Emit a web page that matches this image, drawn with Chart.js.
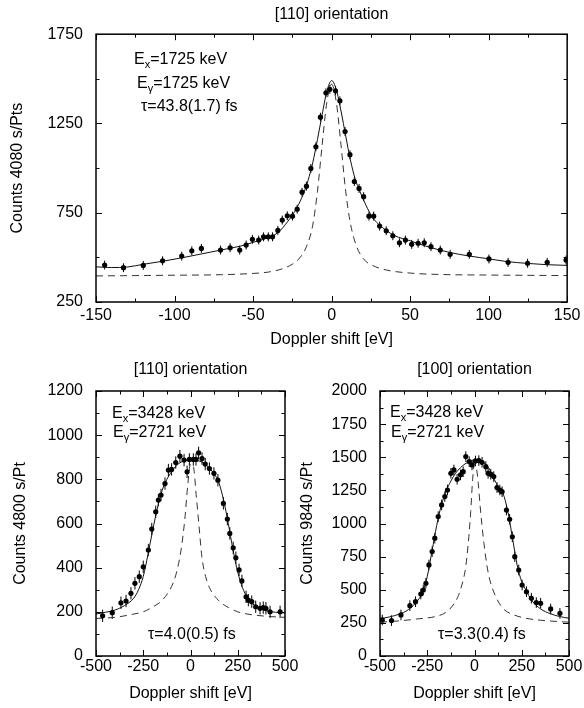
<!DOCTYPE html>
<html>
<head>
<meta charset="utf-8">
<script src="https://cdn.jsdelivr.net/npm/chart.js@4/dist/chart.umd.min.js"></script>
<style>
  body { margin: 0; background: #fff; }
  #wrap { position: relative; width: 584px; height: 708px; }
  canvas { position: absolute; }
</style>
</head>
<body>
<div id="wrap">
  <canvas id="top" width="584" height="352" style="left:0;top:0"></canvas>
  <canvas id="left" width="300" height="356" style="left:0;top:352px"></canvas>
  <canvas id="right" width="294" height="356" style="left:290px;top:352px"></canvas>
</div>
<script>
// ---- top panel: [110], Ex = Eg = 1725 keV ----
const topShift = [-144.5, -132.5, -119.9, -107.6, -95.4, -89, -82.9, -70.7, -64.6, -58.5, -54.4, -50.4, -46.4, -43.3, -40.3, -37.6, -34.2, -31.4, -28.2, -24.9, -21.9, -18.8, -16, -13.2, -10, -7.1, -3.6, -1.1, 2.5, 5.3, 8.6, 11.7, 14.5, 17.5, 20.4, 23.8, 26.8, 30.6, 34.8, 39, 43.2, 47, 51, 55.1, 59, 63.3, 69.2, 75.5, 87.7, 100.2, 112.4, 124.8, 137.3, 149.3];
const topCounts = [457, 442, 455, 481, 507, 537, 550, 541, 554, 541, 569, 601, 597, 615, 615, 615, 651, 709, 733, 731, 770, 865, 899, 998, 1119, 1285, 1422, 1441, 1433, 1377, 1205, 1075, 925, 886, 840, 731, 731, 675, 649, 621, 582, 597, 573, 579, 582, 560, 541, 517, 517, 491, 472, 467, 472, 485];
const topFitShift = [-150, -140, -130, -120, -107, -95, -83, -70, -58, -50, -40, -34, -28, -22, -18, -15, -12, -9, -6, -3, 0, 3, 6, 9, 12, 15, 18, 22, 26, 30, 35, 40, 50, 60, 75, 88, 100, 112, 125, 137, 150];
const topFit = [447, 443, 446, 461, 479, 498, 519, 542, 563, 584, 612, 640, 700, 780, 855, 930, 1030, 1160, 1300, 1430, 1490, 1440, 1320, 1180, 1045, 940, 870, 790, 725, 685, 650, 622, 593, 563, 528, 507, 492, 476, 466, 459, 455];
const topBgShift = [-150, -100, -70, -50, -40, -30, -25, -20, -16, -12, -9, -6, -3, 0, 3, 6, 9, 12, 16, 21, 26, 35, 50, 70, 100, 150];
const topBg = [396, 400, 403, 410, 418, 440, 462, 500, 560, 680, 870, 1130, 1370, 1470, 1370, 1130, 870, 690, 560, 485, 455, 429, 412, 404, 401, 398];
const topErr = 25;

// ---- bottom left: [110], Ex = 3428, Eg = 2721 keV ----
const blShift = [-465, -414, -368, -341, -315, -294, -271, -250, -223, -205, -184, -170, -156, -135, -117, -100, -78, -56, -34, -18, -6, 15, 29, 43, 61, 78, 100, 124, 145, 174, 195, 208, 226, 240, 257, 272, 294, 306, 324, 345, 368, 385, 399, 421, 474];
const blCounts = [182, 196, 241, 249, 284, 329, 359, 404, 480, 575, 653, 706, 729, 781, 842, 845, 876, 905, 887, 834, 890, 890, 890, 920, 894, 869, 849, 827, 796, 691, 620, 555, 490, 445, 390, 340, 268, 253, 246, 223, 216, 219, 216, 200, 200];
const blFitShift = [-500, -450, -400, -350, -300, -275, -250, -225, -200, -175, -150, -125, -100, -75, -50, 0, 50, 75, 100, 125, 150, 175, 200, 225, 250, 275, 300, 350, 400, 450, 500];
const blFit = [190, 198, 208, 228, 262, 300, 360, 460, 570, 670, 750, 800, 835, 862, 878, 888, 882, 872, 850, 825, 785, 706, 600, 480, 380, 310, 265, 223, 205, 198, 195];
const blBgShift = [-500, -400, -300, -250, -200, -150, -100, -75, -50, -30, -15, 0, 15, 30, 45, 60, 80, 100, 150, 200, 250, 300, 400, 500];
const blBg = [170, 175, 190, 200, 222, 252, 315, 375, 480, 620, 770, 870, 860, 730, 590, 450, 360, 310, 250, 220, 200, 190, 180, 175];
const blErr = 28;

// ---- bottom right: [100], Ex = 3428, Eg = 2721 keV ----
const brShift = [-488, -439, -389, -342, -312, -284, -271, -257, -241, -224, -210, -192, -174, -157, -143, -125, -109, -92, -74, -60, -46, -28, -13, 5, 23, 40, 60, 72, 86, 102, 119, 134, 146, 169, 186, 200, 213, 234, 252, 275, 301, 327, 350, 403, 452];
const brCounts = [272, 267, 310, 380, 410, 468, 498, 549, 687, 788, 889, 1052, 1140, 1203, 1253, 1379, 1404, 1334, 1367, 1391, 1505, 1467, 1442, 1472, 1475, 1462, 1429, 1379, 1372, 1354, 1271, 1253, 1240, 1102, 1032, 900, 750, 649, 536, 485, 436, 403, 398, 355, 322];
const brFitShift = [-500, -450, -400, -350, -300, -275, -250, -225, -200, -175, -150, -125, -100, -75, -50, 0, 50, 75, 100, 125, 150, 175, 200, 225, 250, 275, 300, 350, 400, 450, 500];
const brFit = [280, 295, 315, 350, 420, 480, 600, 790, 985, 1140, 1245, 1320, 1380, 1420, 1450, 1475, 1458, 1420, 1345, 1280, 1230, 1100, 900, 690, 560, 490, 425, 355, 320, 298, 285];
const brBgShift = [-500, -400, -300, -200, -150, -120, -90, -70, -50, -40, -30, -20, -10, 0, 10, 20, 30, 40, 50, 65, 80, 100, 130, 160, 200, 270, 350, 500];
const brBg = [255, 265, 280, 300, 330, 372, 440, 520, 640, 750, 900, 1090, 1330, 1450, 1420, 1300, 1130, 980, 850, 690, 580, 490, 400, 347, 315, 285, 270, 255];
const brErr = 40;

const FONT = "'Liberation Sans', Arial, Helvetica, sans-serif";
Chart.defaults.font.family = FONT;
Chart.defaults.font.size = 16;
Chart.defaults.color = "#000";

const pairs = (xs, ys) => xs.map((x, i) => ({ x: x, y: ys[i] }));

// box round the plot with inward ticks on all four sides
const frameTicks = {
  id: "frameTicks",
  afterDraw(chart, args, o) {
    const { ctx, chartArea: a, scales } = chart;
    ctx.save();
    ctx.strokeStyle = "#000";
    ctx.lineWidth = 1;
    ctx.beginPath();
    const nx = Math.round((o.xMax - o.xMin) / o.xMinor);
    for (let i = 0; i <= nx; i++) {
      const v = o.xMin + i * o.xMinor;
      const px = Math.round(scales.x.getPixelForValue(v)) + 0.5;
      const len = i % o.xEvery === 0 ? 6 : 3.5;
      ctx.moveTo(px, a.bottom); ctx.lineTo(px, a.bottom - len);
      ctx.moveTo(px, a.top); ctx.lineTo(px, a.top + len);
    }
    const ny = Math.round((o.yMax - o.yMin) / o.yMinor);
    for (let i = 0; i <= ny; i++) {
      const v = o.yMin + i * o.yMinor;
      const py = Math.round(scales.y.getPixelForValue(v)) + 0.5;
      const len = i % o.yEvery === 0 ? 6 : 3.5;
      ctx.moveTo(a.left, py); ctx.lineTo(a.left + len, py);
      ctx.moveTo(a.right, py); ctx.lineTo(a.right - len, py);
    }
    ctx.stroke();
    ctx.lineWidth = 1.5;
    ctx.strokeRect(a.left, a.top, a.right - a.left, a.bottom - a.top);
    ctx.restore();
  },
};

const errorBars = {
  id: "errorBars",
  beforeDatasetsDraw(chart, args, o) {
    const { ctx, scales: { x, y } } = chart;
    ctx.save();
    ctx.strokeStyle = "#000";
    ctx.lineWidth = 1;
    ctx.beginPath();
    chart.data.datasets[0].data.forEach((p) => {
      const px = x.getPixelForValue(p.x);
      ctx.moveTo(px, y.getPixelForValue(p.y - o.err));
      ctx.lineTo(px, y.getPixelForValue(p.y + o.err));
    });
    ctx.stroke();
    ctx.restore();
  },
};

// E_x / E_gamma / tau labels
const notes = {
  id: "notes",
  afterDraw(chart, args, o) {
    const ctx = chart.ctx;
    ctx.save();
    ctx.fillStyle = "#000";
    ctx.textBaseline = "middle";
    o.lines.forEach((l) => {
      let x = l.x;
      ctx.font = "16px " + FONT;
      ctx.fillText(l.main, x, l.y);
      x += ctx.measureText(l.main).width;
      if (l.sub) {
        ctx.font = "11px " + FONT;
        ctx.fillText(l.sub, x, l.y + 5);
        x += ctx.measureText(l.sub).width;
        ctx.font = "16px " + FONT;
        ctx.fillText(l.rest, x, l.y);
      }
    });
    ctx.restore();
  },
};

function panel(id, p) {
  return new Chart(document.getElementById(id), {
    type: "line",
    data: {
      datasets: [
        {
          data: pairs(p.xs, p.ys),
          showLine: false,
          pointRadius: 2.6,
          pointBorderWidth: 0,
          pointBackgroundColor: "#000",
        },
        {
          data: pairs(p.fitX, p.fit),
          borderColor: "#111",
          borderWidth: 1,
          pointRadius: 0,
          cubicInterpolationMode: "monotone",
        },
        {
          data: pairs(p.bgX, p.bg),
          borderColor: "#333",
          borderWidth: 1,
          borderDash: [7, 5],
          pointRadius: 0,
          cubicInterpolationMode: "monotone",
        },
      ],
    },
    options: {
      responsive: false,
      animation: false,
      layout: { padding: { right: p.padRight } },
      plugins: {
        legend: { display: false },
        tooltip: { enabled: false },
        title: {
          display: true,
          text: p.title,
          fullSize: false,
          font: { size: 16, weight: "normal" },
          padding: { top: p.titleTop, bottom: p.titleBottom },
        },
        frameTicks: p.ticks,
        errorBars: { err: p.err },
        notes: { lines: p.notes },
      },
      scales: {
        x: {
          type: "linear",
          min: p.ticks.xMin,
          max: p.ticks.xMax,
          grid: { display: false, drawTicks: false },
          border: { display: false },
          ticks: { stepSize: p.xStep, padding: p.xPad, maxRotation: 0, callback: (v) => String(v) },
          title: { display: true, text: "Doppler shift [eV]", padding: { top: 0, bottom: p.xTitlePad } },
          afterFit: (s) => { s.height = p.xHeight; },
        },
        y: {
          min: p.ticks.yMin,
          max: p.ticks.yMax,
          grid: { display: false, drawTicks: false },
          border: { display: false },
          ticks: { stepSize: p.yStep, padding: 13, callback: (v) => String(v) },
          title: { display: true, text: p.yTitle, padding: { top: p.yTitlePad, bottom: 0 } },
          afterFit: (s) => { s.width = p.yWidth; },
        },
      },
    },
    plugins: [errorBars, frameTicks, notes],
  });
}

panel("top", {
  xs: topShift, ys: topCounts, fitX: topFitShift, fit: topFit, bgX: topBgShift, bg: topBg, err: topErr,
  title: "[110] orientation", titleTop: 5, titleBottom: 10,
  yTitle: "Counts 4080 s/Pts", yTitlePad: 8, yWidth: 96, padRight: 15,
  xStep: 50, yStep: 500, xPad: 3.5, xHeight: 50, xTitlePad: 2.4,
  ticks: { xMin: -150, xMax: 150, xMinor: 25, xEvery: 2, yMin: 250, yMax: 1750, yMinor: 250, yEvery: 2 },
  notes: [
    { x: 134, y: 60, main: "E", sub: "x", rest: "=1725 keV" },
    { x: 137, y: 84, main: "E", sub: "γ", rest: "=1725 keV" },
    { x: 141, y: 107, main: "τ=43.8(1.7) fs" },
  ],
});

panel("left", {
  xs: blShift, ys: blCounts, fitX: blFitShift, fit: blFit, bgX: blBgShift, bg: blBg, err: blErr,
  title: "[110] orientation", titleTop: 8.4, titleBottom: 11.4,
  yTitle: "Counts 4800 s/Pt", yTitlePad: 11, yWidth: 96, padRight: 15,
  xStep: 250, yStep: 200, xPad: 1, xHeight: 52, xTitlePad: 5,
  ticks: { xMin: -500, xMax: 500, xMinor: 125, xEvery: 2, yMin: 0, yMax: 1200, yMinor: 100, yEvery: 2 },
  notes: [
    { x: 112, y: 62, main: "E", sub: "x", rest: "=3428 keV" },
    { x: 113, y: 81, main: "E", sub: "γ", rest: "=2721 keV" },
    { x: 148, y: 283, main: "τ=4.0(0.5) fs" },
  ],
});

panel("right", {
  xs: brShift, ys: brCounts, fitX: brFitShift, fit: brFit, bgX: brBgShift, bg: brBg, err: brErr,
  title: "[100] orientation", titleTop: 8.4, titleBottom: 11.4,
  yTitle: "Counts 9840 s/Pt", yTitlePad: 8, yWidth: 90, padRight: 15,
  xStep: 250, yStep: 250, xPad: 1, xHeight: 52, xTitlePad: 5,
  ticks: { xMin: -500, xMax: 500, xMinor: 125, xEvery: 2, yMin: 0, yMax: 2000, yMinor: 125, yEvery: 2 },
  notes: [
    { x: 100, y: 61, main: "E", sub: "x", rest: "=3428 keV" },
    { x: 101, y: 81, main: "E", sub: "γ", rest: "=2721 keV" },
    { x: 148, y: 283, main: "τ=3.3(0.4) fs" },
  ],
});
</script>
</body>
</html>
